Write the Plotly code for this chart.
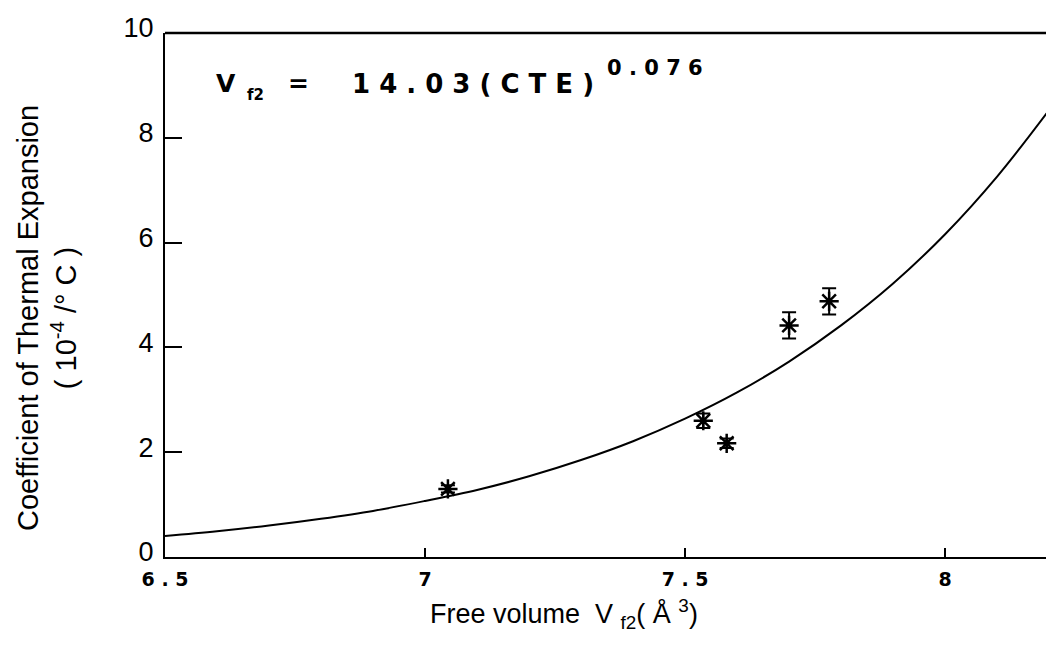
import plotly.graph_objects as go

# Measured data points (free volume, CTE) with error bars
vf2 = [7.044, 7.535, 7.58, 7.70, 7.777]
cte = [1.30, 2.60, 2.17, 4.42, 4.88]
cte_err = [0.07, 0.14, 0.09, 0.25, 0.25]

# Fitted curve
curve_x = [6.5, 6.6, 6.7, 6.8, 6.9, 7.0, 7.1, 7.2, 7.3, 7.4, 7.5, 7.6, 7.7, 7.8, 7.9, 8.0, 8.1, 8.2]
curve_y = [0.40, 0.49, 0.60, 0.73, 0.88, 1.07, 1.28, 1.54, 1.85, 2.21, 2.64, 3.14, 3.73, 4.42, 5.22, 6.16, 7.26, 8.53]

x_ticks = [6.5, 7, 7.5, 8]
x_tick_text = ["6 . 5", "7", "7 . 5", "8"]
y_ticks = [0, 2, 4, 6, 8, 10]
y_tick_text = ["0", "2", "4", "6", "8", "10"]

W, H = 1046, 646
L, R, T, B = 165, 0, 33, 89
PW, PH = W - L - R, H - T - B


def px(x):
    return (x - L) / PW


def py(y):
    return (H - B - y) / PH


fig = go.Figure()
fig.add_trace(go.Scatter(
    x=curve_x, y=curve_y, mode="lines",
    line=dict(color="black", width=2, shape="spline"),
    showlegend=False, hoverinfo="skip"))
fig.add_trace(go.Scatter(
    x=vf2, y=cte, mode="markers",
    marker=dict(symbol="asterisk-open", size=16, color="black",
                line=dict(color="black", width=2.5)),
    error_y=dict(type="data", array=cte_err, visible=True,
                 color="black", thickness=2, width=7),
    showlegend=False))

fig.update_layout(
    width=W, height=H, autosize=False,
    margin=dict(l=L, r=R, t=T, b=B, pad=0),
    plot_bgcolor="white", paper_bgcolor="white",
    font=dict(family="Liberation Sans, Arial, sans-serif", color="black"),
    xaxis=dict(range=[6.5, 8.194], tickvals=x_ticks, ticktext=x_tick_text,
               ticks="inside", ticklen=9, tickwidth=1.5, tickcolor="black",
               showline=True, linecolor="black", linewidth=2,
               showgrid=False, zeroline=False, ticklabelstandoff=4,
               tickfont=dict(family="DejaVu Sans", size=19, color="black", weight="bold")),
    yaxis=dict(range=[0, 10], tickvals=y_ticks, ticktext=y_tick_text,
               ticks="inside", ticklen=17, tickwidth=1.5, tickcolor="black",
               showline=True, linecolor="black", linewidth=2,
               showgrid=False, zeroline=False, ticklabelstandoff=4, ticklabelshift=-5,
               tickfont=dict(family="Liberation Sans, Arial", size=27, color="black")),
)

# top frame line
fig.add_shape(type="line", xref="paper", yref="paper", x0=0, x1=1, y0=1, y1=1,
              line=dict(color="black", width=2.5))

eq_font = dict(family="DejaVu Sans", color="black", weight="bold")
# equation pieces
fig.add_annotation(xref="paper", yref="paper", x=px(214), y=py(84), xanchor="left", yanchor="middle",
                   text="V", showarrow=False, font=dict(size=25, **eq_font))
fig.add_annotation(xref="paper", yref="paper", x=px(245), y=py(95), xanchor="left", yanchor="middle",
                   text="f2", showarrow=False, font=dict(size=15, **eq_font))
fig.add_annotation(xref="paper", yref="paper", x=px(298), y=py(84), xanchor="center", yanchor="middle",
                   text="=", showarrow=False, font=dict(size=25, **eq_font))
fig.add_annotation(xref="paper", yref="paper", x=px(350), y=py(84), xanchor="left", yanchor="middle",
                   text="1 4 . 0 3 ( C T E )", showarrow=False, font=dict(size=26, **eq_font))
fig.add_annotation(xref="paper", yref="paper", x=px(605), y=py(68), xanchor="left", yanchor="middle",
                   text="0 . 0 7 6", showarrow=False, font=dict(size=21, **eq_font))

fig.add_annotation(
    xref="paper", yref="paper", x=px(47), y=py(318), xanchor="center", yanchor="middle",
    textangle=-90, showarrow=False,
    text="Coefficient of Thermal Expansion<br>( 10<sup>-4</sup> /° C )",
    font=dict(family="Liberation Sans, Arial", size=29, color="black"))

fig.add_annotation(
    xref="paper", yref="paper", x=px(428), y=py(614), xanchor="left", yanchor="middle",
    showarrow=False,
    text="Free volume  V <sub>f2</sub>( Å <sup>3</sup>)",
    font=dict(family="Liberation Sans, Arial", size=27, color="black"))

fig.write_html("out.html", config={"displayModeBar": False},
               post_script="document.body.style.margin='0';document.body.style.overflow='hidden';")
